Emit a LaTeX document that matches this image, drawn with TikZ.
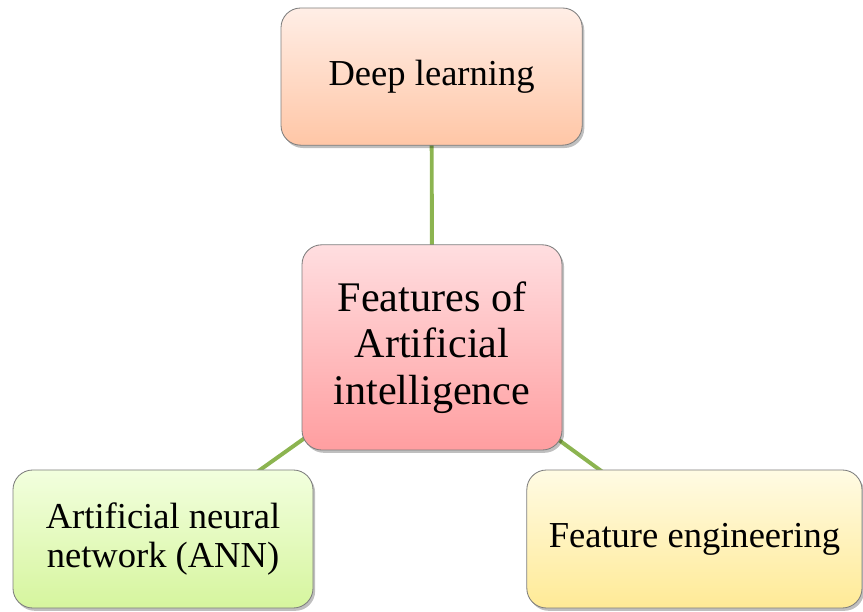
\documentclass[tikz,border=0pt]{standalone}
\usepackage{fontspec}
\setmainfont{Liberation Serif}
\usetikzlibrary{backgrounds,shadows}
\definecolor{featgreen}{RGB}{140,180,80}
\definecolor{featgrey}{RGB}{125,125,125}
\definecolor{deepTop}{RGB}{255,238,230}
\definecolor{deepBot}{RGB}{255,198,166}
\definecolor{rootTop}{RGB}{255,222,224}
\definecolor{rootBot}{RGB}{255,158,160}
\definecolor{annTop}{RGB}{242,255,222}
\definecolor{annBot}{RGB}{214,245,158}
\definecolor{fengTop}{RGB}{255,251,228}
\definecolor{fengBot}{RGB}{255,234,150}
\tikzset{
  ftnode/.style={rectangle, rounded corners=14pt, draw=featgrey, line width=0.6pt,
                 align=center, inner sep=2pt, font=\fontsize{26}{28}\selectfont,
                 drop shadow={shadow xshift=1.5pt, shadow yshift=-2pt,
                              fill=black, opacity=0.25}},
  ftroot/.style={ftnode, font=\fontsize{30}{33}\selectfont,
                 top color=rootTop, bottom color=rootBot},
  ftdeep/.style={ftnode, top color=deepTop, bottom color=deepBot},
  ftann/.style ={ftnode, top color=annTop, bottom color=annBot},
  ftfeng/.style={ftnode, top color=fengTop, bottom color=fengBot},
  ftline/.style={line width=2.8pt, featgreen},
}
\begin{document}
\begin{tikzpicture}
\useasboundingbox (0,0) rectangle (21.575,15.275);
\node[ftroot, minimum width=6.5cm, minimum height=5.13cm] (root) at (10.8, 6.59)
  {Features of\\Artificial\\intelligence};
\node[ftdeep, minimum width=7.53cm, minimum height=3.43cm] (deep) at (10.79, 13.36)
  {Deep learning};
\node[ftann, minimum width=7.5cm, minimum height=3.45cm] (ann) at (4.075, 1.8)
  {Artificial neural\\network (ANN)};
\node[ftfeng, minimum width=8.38cm, minimum height=3.45cm] (feng) at (17.36, 1.8)
  {Feature engineering};
\begin{scope}[on background layer]
\draw[ftline] (root.center) -- (deep.center);
\draw[ftline] (root.center) -- (ann.center);
\draw[ftline] (root.center) -- (feng.center);
\end{scope}
\end{tikzpicture}
\end{document}
